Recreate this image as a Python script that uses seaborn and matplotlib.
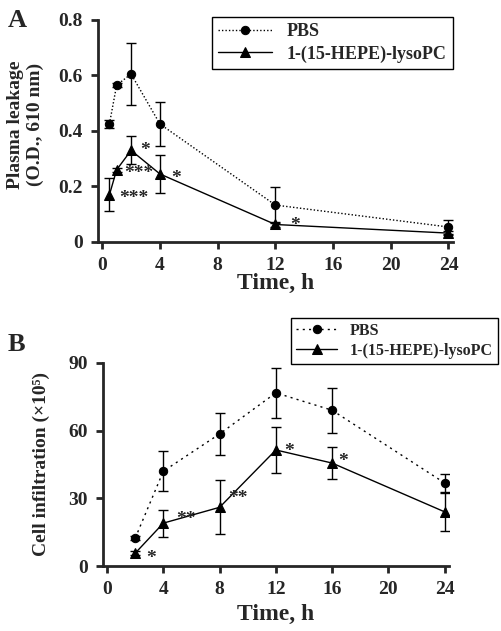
import pandas as pd
import matplotlib.pyplot as plt
import seaborn as sns

# panel A: plasma leakage
time_a = [0.5, 1, 2, 4, 12, 24]
pbs_a = [0.425, 0.565, 0.605, 0.425, 0.133, 0.054]
pbs_a_err = [0.015, 0.008, 0.11, 0.08, 0.065, 0.025]
lyso_a = [0.17, 0.26, 0.33, 0.245, 0.063, 0.032]
lyso_a_err = [0.06, 0.008, 0.05, 0.07, 0.01, 0.008]
stars_a = [(2.6, 0.33, '*'), (1.5, 0.245, '***'), (1.2, 0.155, '***'),
           (4.8, 0.23, '*'), (13.0, 0.06, '*')]

# panel B: cell infiltration
time_b = [2, 4, 8, 12, 16, 24]
pbs_b = [12.4, 42.0, 58.5, 76.7, 69.0, 36.8]
pbs_b_err = [1.0, 8.8, 9.3, 11.2, 10.0, 4.0]
lyso_b = [5.7, 19.0, 26.0, 51.4, 45.6, 24.0]
lyso_b_err = [1.0, 6.0, 12.0, 10.0, 7.0, 8.5]
stars_b = [(2.8, 3.5, '*'), (4.9, 20.5, '**'), (8.6, 30.0, '**'),
           (12.6, 50.5, '*'), (16.4, 46.5, '*')]

xticks = [0, 4, 8, 12, 16, 20, 24]
labels = ['PBS', '1-(15-HEPE)-lysoPC']

sns.set_style('ticks')
plt.rcParams['font.family'] = ['Liberation Serif', 'DejaVu Serif']
plt.rcParams['font.weight'] = 'bold'
plt.rcParams['axes.labelweight'] = 'bold'
plt.rcParams['axes.linewidth'] = 2

fig = plt.figure(figsize=(5.02, 6.31), dpi=100)
ax_a = fig.add_axes([0.195, 0.6165, 0.707, 0.352])
ax_b = fig.add_axes([0.205, 0.103, 0.689, 0.322])


def draw(ax, t, pbs, pbs_err, lyso, lyso_err, dots):
    sns.lineplot(x=t, y=pbs, ax=ax, color='black', marker='o', markersize=6,
                 markeredgecolor='black', linewidth=1, linestyle=dots, label=labels[0])
    sns.lineplot(x=t, y=lyso, ax=ax, color='black', marker='^', markersize=7.5,
                 markeredgecolor='black', linewidth=1, label=labels[1])
    ax.errorbar(t, pbs, yerr=pbs_err, fmt='none', ecolor='black', elinewidth=1,
                capsize=3.5, capthick=1)
    ax.errorbar(t, lyso, yerr=lyso_err, fmt='none', ecolor='black', elinewidth=1,
                capsize=3.5, capthick=1)
    sns.despine(ax=ax)
    ax.set_xticks(xticks)
    ax.set_xlim(-0.3, 24.3)
    ax.tick_params(direction='out', length=5, width=2, labelsize=14, pad=6)
    ax.set_xlabel('Time, h', fontsize=17, labelpad=-1)


draw(ax_a, time_a, pbs_a, pbs_a_err, lyso_a, lyso_a_err, (0, (1, 1.5)))
ax_a.set_ylim(0, 0.8)
ax_a.set_yticks([0, 0.2, 0.4, 0.6, 0.8])
ax_a.set_yticklabels(['0', '0.2', '0.4', '0.6', '0.8'])
ax_a.set_ylabel('Plasma leakage\n(O.D., 610 nm)', fontsize=14)
ax_a.yaxis.set_label_coords(-0.152, 0.53)
for x, y, s in stars_a:
    ax_a.text(x, y, s, fontsize=14, ha='left', va='center')
ax_a.legend(loc='upper right', bbox_to_anchor=(1.0, 1.015), borderaxespad=0,
            frameon=True, fancybox=False, edgecolor='black', framealpha=1,
            handlelength=3.0, labelspacing=0.3, borderpad=0.35,
            prop={'weight': 'bold', 'size': 13})

draw(ax_b, time_b, pbs_b, pbs_b_err, lyso_b, lyso_b_err, (0, (1.5, 3)))
ax_b.xaxis.labelpad = 4
ax_b.set_ylim(0, 90)
ax_b.set_yticks([0, 30, 60, 90])
ax_b.set_ylabel('Cell infiltration (×10⁵)', fontsize=14)
ax_b.yaxis.set_label_coords(-0.153, 0.5)
for x, y, s in stars_b:
    ax_b.text(x, y, s, fontsize=14, ha='left', va='center')
ax_b.legend(loc='upper right', bbox_to_anchor=(1.142, 1.22), borderaxespad=0,
            frameon=True, fancybox=False, edgecolor='black', framealpha=1,
            handlelength=2.6, labelspacing=0.25, borderpad=0.3,
            prop={'weight': 'bold', 'size': 11.5})

fig.text(0.016, 0.968, 'A', fontsize=19, fontweight='bold', va='center')
fig.text(0.016, 0.454, 'B', fontsize=19, fontweight='bold', va='center')

fig.savefig('out.png', dpi=100)
